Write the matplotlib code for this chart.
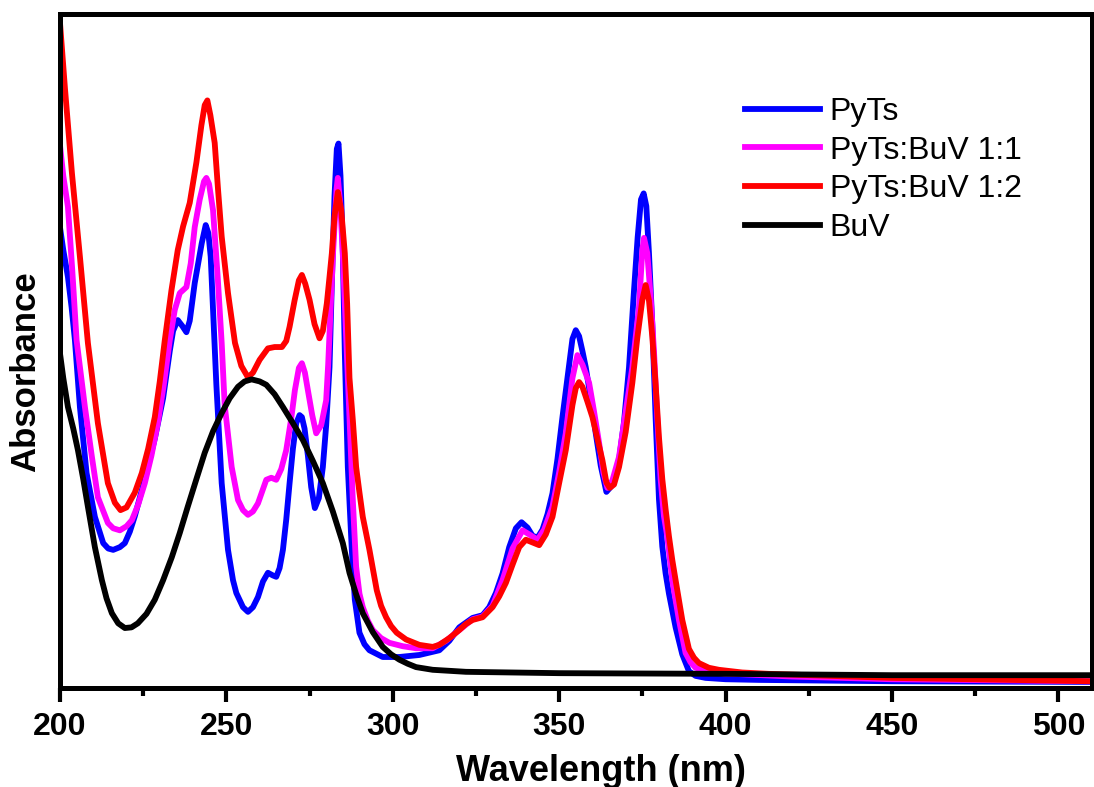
import numpy as np
import matplotlib.pyplot as plt

plt.rcParams['font.family'] = ['Liberation Sans', 'DejaVu Sans']

# PyTs
wl_pyts = [200, 201, 202.4, 203.5, 204.5, 206, 208, 210.5, 213, 214.5, 216, 218, 219.5,
           221, 222.5, 225.5, 228.5, 231, 233, 234, 235.4, 236.8, 238, 239, 240.5,
           242.6, 243.8, 244.6, 245.3, 246, 247, 248.6, 250.5, 252, 253, 255, 256.5,
           258, 259.5, 261, 262.5, 264, 265, 266, 267, 268, 269, 270, 271, 272, 272.7,
           273.5, 274.5, 275.5, 276.6, 277.8, 279, 280, 281, 281.7, 282.5, 283.2, 283.7,
           284.3, 284.9, 285.6, 286.5, 287.7, 288.6, 290, 291.5, 293, 297, 302, 308, 314,
           317, 320, 324, 327, 329, 331, 333, 335, 337, 338.7, 340.5, 342, 343.5, 345,
           346.5, 348, 349.5, 351, 352.5, 354, 355, 356, 357, 358, 359.5, 361, 362.5,
           364.2, 365.8, 367, 368, 369.5, 371, 372.5, 373.6, 374.6, 375.4, 376.2, 377,
           378, 379, 380, 381, 382, 383, 385, 387, 389, 391, 394, 400, 410, 450, 510]
a_pyts = [0.684, 0.650, 0.610, 0.565, 0.516, 0.417, 0.319, 0.254, 0.215, 0.207, 0.205, 0.209, 0.215,
          0.232, 0.255, 0.310, 0.370, 0.430, 0.500, 0.530, 0.546, 0.537, 0.528, 0.545, 0.601,
          0.660, 0.687, 0.675, 0.640, 0.561, 0.450, 0.304, 0.205, 0.160, 0.141, 0.120, 0.113,
          0.120, 0.135, 0.158, 0.171, 0.167, 0.165, 0.178, 0.205, 0.250, 0.304, 0.355, 0.393, 0.405, 0.402,
          0.385, 0.345, 0.298, 0.267, 0.282, 0.328, 0.390, 0.476, 0.600, 0.730, 0.800, 0.808,
          0.760, 0.670, 0.497, 0.328, 0.205, 0.131, 0.082, 0.065, 0.056, 0.046, 0.046, 0.049, 0.056,
          0.070, 0.090, 0.104, 0.108, 0.120, 0.141, 0.170, 0.209, 0.237, 0.246, 0.238, 0.226, 0.223, 0.235,
          0.258, 0.289, 0.340, 0.402, 0.460, 0.518, 0.531, 0.522, 0.500, 0.476, 0.430, 0.378, 0.330,
          0.291, 0.300, 0.318, 0.338, 0.395, 0.476, 0.590, 0.669, 0.725, 0.734, 0.715, 0.645,
          0.540, 0.400, 0.280, 0.210, 0.170, 0.140, 0.090, 0.050, 0.025, 0.018, 0.015, 0.013, 0.012, 0.010, 0.009]

# PyTs:BuV 1:1
wl_11 = [200, 201, 202.4, 203.7, 205, 207.5, 209.6, 211.4, 214.4, 216, 218, 220, 221.6,
         223.5, 225.5, 227.5, 229.4, 231.2, 233, 234.5, 236, 238, 239.3, 240.5, 242,
         243.3, 244, 244.8, 246, 247.4, 248.6, 249.5, 251.6, 253.5, 255, 256.5, 258,
         259.5, 261, 262, 263.5, 265, 266.5, 268, 269.5, 270.6, 271.8, 272.7, 273.6,
         274.5, 275.8, 277, 278.5, 280, 280.6, 281.3, 282, 282.6, 283.1, 283.5, 284.2,
         285, 285.6, 286.2, 287, 288, 289, 290, 291, 292.5, 294, 296.5, 299, 303, 307,
         312, 316, 320, 324, 327, 330, 333, 336, 339, 341, 343.5, 345.5, 348, 350, 352,
         354, 355.5, 357, 359, 360.5, 362, 363.3, 364.5, 366, 368, 370, 372, 374, 375,
         375.5, 376.5, 377.5, 378.5, 379.5, 380.5, 381.5, 382.5, 384, 386, 388, 389.5,
         391, 395, 398, 420, 450, 510]
a_11 = [0.806, 0.760, 0.714, 0.620, 0.516, 0.417, 0.343, 0.283, 0.245, 0.237, 0.234, 0.240, 0.249,
        0.272, 0.304, 0.345, 0.393, 0.450, 0.516, 0.561, 0.586, 0.595, 0.630, 0.684, 0.725,
        0.752, 0.757, 0.748, 0.709, 0.610, 0.512, 0.420, 0.328, 0.279, 0.264, 0.257, 0.262,
        0.274, 0.295, 0.309, 0.312, 0.309, 0.325, 0.353, 0.400, 0.442, 0.475, 0.482, 0.468,
        0.442, 0.405, 0.378, 0.390, 0.427, 0.480, 0.560, 0.640, 0.694, 0.740, 0.757, 0.720,
        0.645, 0.570, 0.497, 0.402, 0.279, 0.180, 0.140, 0.120, 0.100, 0.086, 0.074, 0.067, 0.062, 0.059,
        0.059, 0.070, 0.086, 0.102, 0.106, 0.122, 0.160, 0.207, 0.234, 0.228, 0.220, 0.235, 0.269, 0.320, 0.378,
        0.460, 0.494, 0.480, 0.453, 0.410, 0.364, 0.320, 0.297, 0.308, 0.343, 0.410, 0.476, 0.565, 0.650,
        0.668, 0.645, 0.580, 0.500, 0.400, 0.310, 0.255, 0.225, 0.160, 0.101, 0.052, 0.038,
        0.030, 0.025, 0.022, 0.017, 0.013, 0.010]

# PyTs:BuV 1:2
wl_12 = [200, 201.5, 203.6, 206, 208.4, 211.4, 214.4, 216.5, 218.2, 220, 222.5, 224.6,
         226.5, 228.5, 230, 231.5, 233.5, 235.4, 237, 239, 241, 242.5, 243.5, 244.3,
         245.2, 246.5, 247.5, 248.6, 250.5, 252.6, 254.5, 256.5, 258, 260, 262.5, 264.5,
         266.7, 268, 269, 270.5, 271.8, 272.7, 273.7, 275, 276.5, 278, 279, 280.2, 281,
         281.7, 282.5, 283.5, 284.5, 285.6, 286.3, 287, 288, 289, 290, 291, 293, 295.2,
         296.5, 298, 299.5, 301.2, 304, 308, 312, 314, 317, 320, 322, 324, 327, 330, 332,
         334, 336, 338, 340, 342, 344, 346, 348, 350, 352, 354, 355, 356, 357, 358.5, 360,
         361.5, 363, 364.2, 365.2, 366.5, 368, 370, 372, 373.5, 375, 376, 377, 378, 379,
         380, 381, 382, 383, 384, 385, 387, 389, 390.5, 392, 395, 398, 405, 413, 450, 510]
a_12 = [0.988, 0.890, 0.764, 0.640, 0.512, 0.393, 0.304, 0.275, 0.264, 0.268, 0.290, 0.319,
        0.355, 0.402, 0.455, 0.516, 0.590, 0.650, 0.685, 0.720, 0.780, 0.835, 0.865, 0.872,
        0.850, 0.809, 0.740, 0.670, 0.586, 0.512, 0.478, 0.461, 0.468, 0.487, 0.504, 0.506,
        0.506, 0.515, 0.536, 0.575, 0.605, 0.613, 0.600, 0.576, 0.540, 0.519, 0.530, 0.571, 0.610,
        0.645, 0.700, 0.736, 0.710, 0.645, 0.570, 0.460, 0.398, 0.328, 0.290, 0.254, 0.205, 0.145,
        0.122, 0.105, 0.092, 0.082, 0.072, 0.064, 0.061, 0.064, 0.074, 0.086, 0.095, 0.101, 0.105, 0.120, 0.136,
        0.156, 0.183, 0.209, 0.220, 0.216, 0.212, 0.228, 0.254, 0.304, 0.353, 0.420, 0.445, 0.454, 0.447, 0.425, 0.402,
        0.370, 0.338, 0.305, 0.297, 0.302, 0.328, 0.380, 0.453, 0.520, 0.576, 0.598, 0.575, 0.521, 0.450,
        0.372, 0.310, 0.265, 0.225, 0.190, 0.160, 0.101, 0.058, 0.045, 0.037, 0.030, 0.027, 0.023, 0.021, 0.015, 0.010]

# BuV
wl_buv = [200, 201, 202.4, 204, 205.4, 207, 208.4, 210.5, 212.6, 214, 215.6, 217.5, 219.5,
          221.5, 223.4, 226, 228.5, 231, 233.6, 236, 238.4, 241, 243.5, 246, 248.6, 251,
          253.5, 255.5, 257.6, 260, 262, 264.5, 267, 270, 273, 276, 279, 282, 285, 287,
          289, 291, 294, 297, 299.5, 302, 304.5, 307, 312, 322, 350, 400, 450, 510]
a_buv = [0.497, 0.460, 0.417, 0.385, 0.353, 0.310, 0.269, 0.209, 0.160, 0.133, 0.111, 0.096, 0.089,
         0.090, 0.096, 0.110, 0.131, 0.160, 0.194, 0.230, 0.269, 0.310, 0.349, 0.381, 0.408, 0.430,
         0.447, 0.455, 0.458, 0.455, 0.450, 0.436, 0.417, 0.393, 0.368, 0.337, 0.304, 0.262, 0.215, 0.171,
         0.139, 0.111, 0.083, 0.061, 0.050, 0.042, 0.036, 0.031, 0.027, 0.024, 0.022, 0.021, 0.019, 0.019]

fig = plt.figure(figsize=(10.94, 7.87), dpi=100)
ax = fig.add_axes([0.0548, 0.1258, 0.943, 0.8562])

lw = 4.2
ax.plot(wl_pyts, a_pyts, color='#0000ff', lw=lw, label='PyTs')
ax.plot(wl_11, a_11, color='#ff00ff', lw=lw, label='PyTs:BuV 1:1')
ax.plot(wl_12, a_12, color='#ff0000', lw=lw, label='PyTs:BuV 1:2')
ax.plot(wl_buv, a_buv, color='black', lw=lw, label='BuV')

ax.set_xlim(200, 510)
ax.set_ylim(0, 1.0)
ax.set_xticks([200, 250, 300, 350, 400, 450, 500])
ax.set_xticks(np.arange(225, 510, 50), minor=True)
ax.set_yticks([])
ax.tick_params(axis='x', which='major', direction='out', length=10, width=3,
               labelsize=23, pad=7)
ax.tick_params(axis='x', which='minor', direction='out', length=6, width=3)
for lab in ax.get_xticklabels():
    lab.set_fontweight('bold')
for s in ax.spines.values():
    s.set_linewidth(3.6)

ax.set_xlabel('Wavelength (nm)', fontsize=26, fontweight='bold')
ax.xaxis.set_label_coords(0.524, -0.098)
ax.set_ylabel('Absorbance', fontsize=25, fontweight='bold')
ax.yaxis.set_label_coords(-0.017, 0.469)

ax.legend(loc='upper left', bbox_to_anchor=(0.664, 0.877), frameon=False, fontsize=23,
          handlelength=2.35, handletextpad=0.3, labelspacing=0.27,
          borderpad=0, borderaxespad=0)

fig.savefig('out.png', dpi=100)
